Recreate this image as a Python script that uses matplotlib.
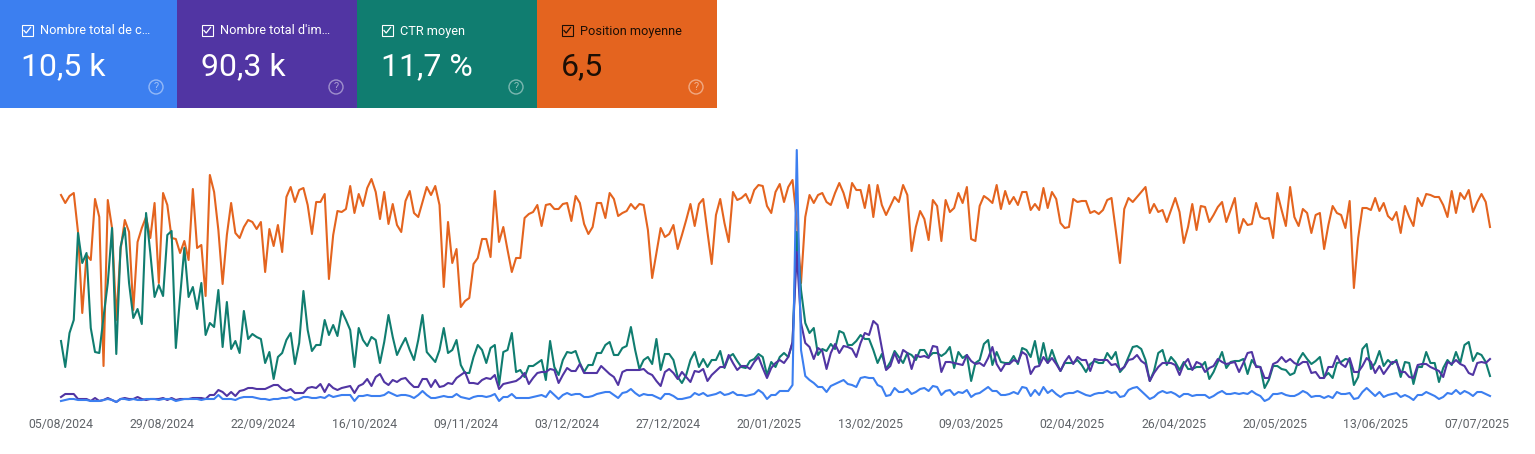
import numpy as np
import matplotlib
matplotlib.use("Agg")
import matplotlib.pyplot as plt
from matplotlib.patches import Rectangle, Circle

plt.rcParams["font.family"] = ["Roboto", "DejaVu Sans"]

W, H = 1535, 454

card_names = ["Nombre total de c…", "Nombre total d'im…", "CTR moyen", "Position moyenne"]
card_values = ["10,5 k", "90,3 k", "11,7 %", "6,5"]
card_colors = ["#3c7ff0", "#5135a3", "#107d70", "#e4641f"]
card_text = ["white", "white", "white", "#1d0f05"]

tick_labels = ["05/08/2024", "29/08/2024", "22/09/2024", "16/10/2024", "09/11/2024",
               "03/12/2024", "27/12/2024", "20/01/2025", "13/02/2025", "09/03/2025",
               "02/04/2025", "26/04/2025", "20/05/2025", "13/06/2025", "07/07/2025"]

# heights above the baseline, one value a day (axis has no scale in the original)
position = [
    207, 199, 206, 209, 170, 89, 147, 142, 203, 185,
    36, 202, 174, 82, 152, 182, 170, 92, 160, 174,
    185, 164, 199, 119, 209, 197, 164, 163, 149, 161,
    142, 213, 154, 157, 106, 227, 210, 172, 118, 167,
    199, 169, 164, 175, 182, 180, 173, 180, 130, 173,
    156, 177, 150, 205, 215, 200, 212, 214, 197, 168,
    200, 200, 208, 123, 167, 191, 190, 193, 216, 189,
    208, 196, 214, 223, 210, 183, 210, 178, 198, 177,
    170, 201, 211, 189, 185, 200, 215, 207, 216, 197,
    115, 180, 139, 153, 95, 101, 104, 138, 144, 163,
    163, 145, 211, 160, 175, 152, 130, 144, 144, 184,
    188, 190, 197, 176, 197, 198, 193, 193, 198, 199,
    181, 206, 199, 178, 168, 175, 199, 199, 184, 209,
    203, 186, 189, 191, 198, 193, 198, 197, 172, 124,
    149, 174, 165, 168, 177, 153, 167, 182, 198, 176,
    198, 203, 170, 138, 187, 203, 179, 160, 210, 202,
    204, 208, 199, 212, 217, 216, 196, 189, 210, 218,
    200, 215, 222, 182, 119, 185, 207, 199, 207, 209,
    200, 197, 209, 219, 209, 194, 219, 212, 212, 194,
    217, 185, 217, 197, 187, 196, 205, 200, 217, 207,
    151, 175, 191, 183, 162, 202, 196, 161, 202, 190,
    194, 209, 199, 215, 163, 161, 196, 206, 203, 199,
    217, 193, 211, 198, 205, 197, 210, 210, 192, 198,
    192, 214, 194, 210, 203, 179, 174, 175, 203, 200,
    201, 201, 189, 191, 188, 192, 202, 204, 172, 139,
    193, 204, 200, 205, 210, 215, 189, 198, 190, 192,
    180, 192, 204, 190, 159, 175, 198, 172, 196, 195,
    180, 187, 195, 200, 180, 192, 204, 169, 183, 177,
    178, 199, 185, 183, 184, 164, 209, 192, 176, 215,
    185, 176, 193, 189, 169, 187, 189, 153, 177, 196,
    189, 187, 174, 201, 114, 164, 194, 194, 192, 204,
    191, 199, 186, 182, 190, 169, 196, 185, 176, 204,
    196, 208, 207, 205, 205, 197, 185, 211, 189, 209,
    203, 212, 190, 200, 208, 200, 175,
]

ctr = [
    61, 35, 69, 82, 169, 139, 149, 74, 50, 49,
    85, 119, 174, 48, 155, 174, 119, 84, 93, 78,
    189, 149, 105, 117, 106, 167, 171, 54, 105, 154,
    105, 115, 93, 119, 67, 79, 75, 112, 55, 100,
    53, 61, 49, 91, 63, 68, 65, 63, 39, 50,
    23, 45, 49, 62, 69, 38, 59, 111, 72, 51,
    57, 57, 82, 67, 77, 66, 91, 82, 72, 35,
    74, 62, 56, 65, 62, 39, 60, 87, 65, 47,
    56, 64, 52, 42, 62, 87, 50, 45, 40, 52,
    74, 49, 52, 62, 37, 29, 29, 45, 57, 52,
    39, 54, 57, 17, 50, 52, 69, 30, 32, 25,
    36, 36, 39, 42, 22, 61, 35, 27, 42, 50,
    49, 51, 39, 30, 37, 37, 49, 49, 57, 60,
    47, 47, 54, 56, 75, 52, 33, 42, 45, 38,
    63, 32, 48, 48, 42, 25, 19, 27, 42, 50,
    35, 43, 35, 42, 42, 51, 34, 45, 48, 41,
    35, 34, 41, 43, 48, 45, 27, 40, 35, 45,
    49, 45, 59, 170, 112, 79, 69, 74, 47, 53,
    51, 58, 53, 71, 69, 57, 57, 61, 67, 63,
    63, 52, 39, 48, 33, 40, 51, 45, 39, 49,
    47, 42, 52, 52, 45, 49, 49, 46, 49, 55,
    34, 50, 44, 47, 21, 39, 42, 58, 62, 37,
    50, 40, 39, 39, 46, 38, 54, 52, 45, 61,
    38, 59, 39, 52, 40, 31, 39, 39, 39, 42,
    37, 30, 38, 41, 39, 39, 49, 43, 50, 30,
    35, 45, 55, 56, 53, 42, 21, 31, 49, 52,
    37, 45, 40, 32, 40, 33, 33, 35, 35, 40,
    23, 30, 40, 50, 34, 40, 41, 41, 43, 28,
    42, 36, 35, 14, 22, 36, 36, 33, 32, 27,
    29, 42, 49, 43, 38, 41, 45, 25, 29, 24,
    39, 40, 43, 42, 17, 25, 53, 58, 33, 39,
    51, 36, 42, 38, 42, 25, 40, 39, 18, 35,
    35, 50, 39, 39, 20, 34, 42, 37, 50, 39,
    57, 60, 41, 49, 47, 40, 26,
]

impressions = [
    5, 8, 8, 8, 3, 3, 3, 1, 4, 1,
    2, 4, 2, 0, 3, 4, 3, 3, 5, 3,
    2, 3, 3, 3, 4, 2, 4, 2, 3, 3,
    3, 4, 4, 4, 3, 7, 7, 12, 10, 6,
    10, 6, 11, 12, 14, 14, 13, 13, 13, 15,
    17, 17, 13, 11, 13, 9, 9, 9, 14, 15,
    14, 18, 10, 18, 14, 12, 14, 15, 16, 9,
    16, 18, 23, 16, 25, 28, 20, 17, 22, 20,
    23, 24, 19, 15, 15, 23, 23, 15, 22, 15,
    16, 19, 18, 24, 27, 30, 19, 19, 18, 22,
    24, 23, 27, 13, 18, 19, 20, 21, 24, 29,
    18, 24, 29, 30, 30, 33, 32, 19, 27, 34,
    31, 31, 38, 29, 29, 29, 29, 36, 32, 28,
    25, 17, 30, 32, 32, 32, 32, 33, 29, 27,
    21, 16, 30, 33, 29, 23, 30, 25, 20, 31,
    30, 33, 21, 27, 31, 35, 35, 47, 39, 32,
    36, 36, 33, 40, 45, 34, 24, 34, 39, 42,
    39, 45, 60, 150, 79, 59, 55, 43, 54, 51,
    33, 49, 58, 49, 56, 55, 53, 45, 59, 69,
    67, 81, 77, 54, 32, 36, 49, 39, 52, 49,
    33, 47, 45, 46, 44, 56, 55, 30, 40, 40,
    39, 38, 37, 47, 41, 38, 39, 36, 44, 55,
    38, 31, 38, 38, 42, 40, 50, 47, 28, 35,
    36, 45, 39, 44, 38, 31, 40, 46, 38, 45,
    42, 42, 31, 43, 42, 42, 42, 37, 38, 32,
    35, 42, 43, 47, 41, 38, 21, 29, 35, 39,
    39, 39, 37, 27, 38, 43, 32, 40, 38, 30,
    34, 36, 43, 40, 38, 39, 40, 30, 39, 49,
    50, 35, 35, 24, 24, 38, 40, 45, 40, 43,
    39, 37, 40, 40, 29, 30, 24, 24, 35, 35,
    46, 38, 35, 44, 30, 30, 36, 44, 40, 29,
    36, 28, 34, 40, 40, 30, 30, 25, 24, 37,
    38, 38, 35, 33, 31, 25, 40, 38, 42, 38,
    36, 29, 27, 39, 40, 39, 43,
]

clicks = [
    1, 2, 3, 3, 2, 2, 2, 1, 1, 1,
    2, 3, 2, 0, 3, 3, 2, 3, 2, 2,
    3, 3, 3, 2, 3, 3, 3, 1, 2, 3,
    3, 3, 3, 2, 3, 3, 3, 7, 3, 3,
    3, 2, 4, 5, 5, 5, 4, 3, 3, 2,
    3, 3, 4, 4, 5, 2, 3, 5, 5, 4,
    4, 5, 4, 7, 5, 6, 7, 7, 7, 1,
    6, 6, 7, 6, 6, 6, 7, 10, 8, 6,
    7, 7, 6, 4, 7, 11, 7, 4, 4, 5,
    6, 5, 5, 8, 5, 4, 3, 5, 6, 6,
    5, 6, 8, 1, 5, 5, 8, 4, 4, 4,
    4, 5, 6, 7, 5, 11, 7, 3, 7, 9,
    7, 8, 8, 5, 5, 6, 8, 9, 10, 10,
    7, 4, 9, 10, 13, 9, 6, 8, 7, 7,
    5, 3, 8, 8, 6, 3, 3, 4, 5, 9,
    7, 9, 6, 7, 8, 10, 7, 8, 10, 7,
    7, 6, 7, 8, 12, 9, 3, 7, 7, 11,
    11, 11, 17, 252, 52, 26, 22, 19, 15, 15,
    10, 16, 18, 20, 22, 18, 17, 15, 24, 25,
    24, 24, 17, 15, 6, 7, 14, 10, 10, 13,
    8, 10, 13, 14, 11, 16, 15, 7, 11, 12,
    7, 10, 9, 12, 5, 8, 9, 12, 15, 11,
    11, 7, 7, 8, 10, 8, 15, 14, 6, 12,
    7, 15, 9, 12, 8, 5, 8, 9, 9, 11,
    9, 7, 6, 8, 9, 9, 11, 9, 10, 5,
    6, 12, 14, 15, 11, 7, 3, 5, 9, 11,
    9, 10, 8, 5, 8, 8, 6, 7, 7, 7,
    4, 6, 9, 11, 8, 8, 9, 8, 9, 8,
    11, 8, 6, 1, 3, 8, 8, 9, 7, 6,
    6, 8, 11, 9, 5, 6, 6, 4, 6, 4,
    10, 8, 8, 9, 3, 4, 10, 14, 10, 6,
    10, 5, 7, 8, 9, 5, 7, 5, 2, 7,
    7, 10, 8, 6, 3, 5, 9, 8, 12, 8,
    11, 9, 6, 10, 10, 8, 6,
]

fig = plt.figure(figsize=(W / 100, H / 100), dpi=100)

# pixel overlay for the metric cards
bg = fig.add_axes([0, 0, 1, 1])
bg.set_xlim(0, W)
bg.set_ylim(H, 0)
bg.axis("off")

for k in range(4):
    x0 = 177 + 180 * (k - 1) if k else 0
    x1 = 177 + 180 * k
    tx = 21 + 180 * k
    c = card_text[k]
    bg.add_patch(Rectangle((x0, 0), x1 - x0, 108, fc=card_colors[k], ec="none"))
    bg.add_patch(Rectangle((tx + 0.5, 24.5), 11.5, 11.5, fc="none", ec=c, lw=0.8))
    bg.plot([tx + 3, tx + 5.2, tx + 9.5], [30.5, 33, 27.5], color=c, lw=0.9)
    bg.text(tx + 19, 31, card_names[k], color=c, fontsize=9.2, va="center", ha="left")
    bg.text(tx, 67, card_values[k], color=c, fontsize=23, va="center", ha="left")
    qx = 156 + 180 * k
    bg.add_patch(Circle((qx, 87), 7, fc="none", ec="white", lw=1.0, alpha=0.45))
    bg.text(qx, 87.5, "?", color="white", alpha=0.5, fontsize=8, ha="center", va="center")

# chart axes sit on the plot area, baseline at y=402, top at y=150
ax = fig.add_axes([61 / W, 1 - 402 / H, 1429 / W, 252 / H])
ax.patch.set_alpha(0)
ax.plot(np.arange(len(position)), position, color="#e4641f", lw=1.5, clip_on=False)
ax.plot(np.arange(len(ctr)), ctr, color="#107d70", lw=1.5, clip_on=False)
ax.plot(np.arange(len(impressions)), impressions, color="#5135a3", lw=1.5, clip_on=False)
ax.plot(np.arange(len(clicks)), clicks, color="#3c7ff0", lw=1.5, clip_on=False)
ax.set_xlim(0, 336)
ax.set_ylim(0, 252)
ax.set_yticks([])
for s in ax.spines.values():
    s.set_visible(False)

# labels are spread evenly, the last one stops short of the line end
ax.set_xticks(np.linspace(0, 1416 / 1429 * 336, len(tick_labels)))
ax.set_xticklabels(tick_labels, fontsize=8.8, color="#5f6368")
ax.tick_params(axis="x", length=0, pad=11.5)

fig.savefig("out.png", dpi=100)
